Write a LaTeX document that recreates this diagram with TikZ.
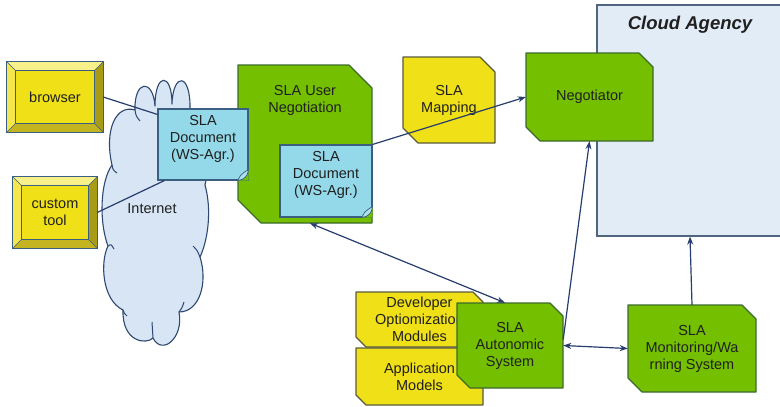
\documentclass[tikz,border=0pt]{standalone}
\usepackage{fontspec}
\setmainfont{Liberation Sans}
\usetikzlibrary{arrows.meta}
\definecolor{agreen}{HTML}{74BF00}
\definecolor{agreenB}{HTML}{3C6A2E}
\definecolor{ayel}{HTML}{F0E018}
\definecolor{ayelB}{HTML}{5A5A3C}
\definecolor{acyan}{HTML}{94D9E9}
\definecolor{acyanB}{HTML}{3A5F80}
\definecolor{aca}{HTML}{E2ECF7}
\definecolor{acaB}{HTML}{506680}
\definecolor{acloud}{HTML}{D8E5F4}
\definecolor{acloudB}{HTML}{2E4870}
\definecolor{aline}{HTML}{263D6E}
\definecolor{atext}{HTML}{202020}
\definecolor{bvtopc}{HTML}{F8F08A}
\definecolor{bvleftc}{HTML}{F4E64C}
\definecolor{bvrightc}{HTML}{A89C16}
\definecolor{bvbotc}{HTML}{C4B420}
\newcommand\chamfshape[6]{%
  \path[#1] (#2,#3) -- ({#4-#6},#3) -- (#4,{#3+#6}) -- (#4,#5) -- ({#2+#6},#5) -- (#2,{#5-#6}) -- cycle;}
\newcommand\mkbevels[2]{%
  \fill[bvtopc] (#1.north west) -- (#1.north east) -- ([shift={(-#2,#2)}]#1.north east) -- ([shift={(#2,#2)}]#1.north west) -- cycle;
  \fill[bvrightc] (#1.north east) -- (#1.south east) -- ([shift={(-#2,-#2)}]#1.south east) -- ([shift={(-#2,#2)}]#1.north east) -- cycle;
  \fill[bvbotc] (#1.south east) -- (#1.south west) -- ([shift={(#2,-#2)}]#1.south west) -- ([shift={(-#2,-#2)}]#1.south east) -- cycle;
  \fill[bvleftc] (#1.south west) -- (#1.north west) -- ([shift={(#2,#2)}]#1.north west) -- ([shift={(#2,-#2)}]#1.south west) -- cycle;
  \draw[bvline] (#1.north west) rectangle (#1.south east);
  \draw[bvline] ([shift={(#2,#2)}]#1.north west) rectangle ([shift={(-#2,-#2)}]#1.south east);
  \draw[bvline] (#1.north west) -- ([shift={(#2,#2)}]#1.north west)
                (#1.north east) -- ([shift={(-#2,#2)}]#1.north east)
                (#1.south east) -- ([shift={(-#2,-#2)}]#1.south east)
                (#1.south west) -- ([shift={(#2,-#2)}]#1.south west);}
\newcommand\docfold[1]{%
  \fill[agreen] (#1.south east) -- ([shift={(-11,0)}]#1.south east) -- ([shift={(0,-11)}]#1.south east) -- cycle;
  \filldraw[fill=acyan!75!white, draw=acyanB, line width=0.7pt]
    ([shift={(-11,0)}]#1.south east) .. controls ([shift={(-4,-1)}]#1.south east) and ([shift={(-1,-4)}]#1.south east) .. ([shift={(0,-11)}]#1.south east)
    .. controls ([shift={(-5,-8)}]#1.south east) .. ([shift={(-8,-5)}]#1.south east) -- cycle;}
\begin{document}
\begin{tikzpicture}[x=1pt,y=-1pt,
  lbl/.style={align=center, font=\fontsize{14.5}{17}\selectfont, text=atext, inner sep=0pt},
  greensh/.style={fill=agreen, draw=agreenB, line width=1.2pt, line join=round},
  yelsh/.style={fill=ayel, draw=ayelB, line width=1.1pt, line join=round},
  cabox/.style={rectangle, fill=aca, draw=acaB, line width=1.2pt, inner sep=0pt},
  catitle/.style={anchor=center, yshift=-20, inner sep=0pt, text=atext, font=\fontsize{18.5}{20}\selectfont\bfseries\itshape},
  cloudsh/.style={fill=acloud, draw=acloudB, line width=1.1pt, line join=round},
  crease/.style={draw=acloudB, line width=1pt},
  btn/.style={lbl, rectangle, fill=ayel},
  bvline/.style={draw=acyanB, line width=0.7pt},
  docbox/.style={rectangle, fill=acyan, draw=acyanB, line width=1.1pt, inner sep=0pt},
  conn/.style={draw=aline, line width=1.2pt},
  arr/.style={conn, -{Stealth[length=8pt, width=6pt]}},
  darr/.style={conn, {Stealth[length=8pt, width=6pt]}-{Stealth[length=8pt, width=6pt]}}
]
\useasboundingbox (0,0) rectangle (780,407);
\fill[white] (0,0) rectangle (780,407);

% Cloud Agency
\node[cabox, minimum width=186, minimum height=231, label={[catitle]north:Cloud Agency}] (ca) at (690,120.5) {};

% Internet cloud
\path[cloudsh] (112,165)
  .. controls (104,130) and (116,104) .. (135,110)
  .. controls (134,80) and (153,78) .. (155,106)
  .. controls (155,72) and (172,72) .. (172,104)
  .. controls (173,72) and (191,72) .. (190,110)
  .. controls (205,120) and (211,160) .. (205,185)
  .. controls (212,210) and (208,240) .. (200,257)
  .. controls (208,282) and (200,312) .. (179,312)
  .. controls (184,338) and (162,356) .. (153,338)
  .. controls (146,345) and (122,342) .. (123,310)
  .. controls (102,300) and (100,262) .. (108,246)
  .. controls (99,222) and (100,182) .. (112,165) -- cycle;
\draw[crease] (135,110) .. controls (136,116) .. (140,121);
\draw[crease] (108,246) .. controls (111,244) .. (114,249);
\draw[crease] (123,310) .. controls (124,313) .. (127,316);
\draw[crease] (153,338) .. controls (152,330) .. (152,322);
\draw[crease] (179,312) .. controls (182,308) .. (184,302);
\draw[crease] (200,257) .. controls (197,250) .. (193,246);
\draw[crease] (112,165) .. controls (113,170) .. (117,173);
\node[lbl] (inet) at (152,209) {Internet};

% client buttons
\node[btn, minimum width=96, minimum height=70] (browser) at (55,97) {browser};
\mkbevels{browser}{9}
\node[btn, minimum width=84, minimum height=71] (custom) at (55,212.5) {custom\\tool};
\mkbevels{custom}{9}

% SLA User Negotiation
\chamfshape{greensh}{238}{65}{372}{223}{23}
\node[lbl, minimum width=134, minimum height=158, label={[lbl, anchor=center, yshift=-36]north:SLA User\\Negotiation}] (uneg) at (305,144) {};

% left SLA document
\node[docbox, minimum width=90, minimum height=71, label={[lbl, anchor=center, yshift=5.5]center:SLA\\Document\\(WS-Agr.)}] (ldoc) at (203,144.5) {};
\docfold{ldoc}
\draw[conn] (browser.east) -- ([yshift=-6]ldoc.north west);
\draw[conn] (custom.east) -- ([xshift=7]ldoc.south west);

% inner SLA document
\node[docbox, minimum width=92, minimum height=72, label={[lbl, anchor=center, yshift=6]center:SLA\\Document\\(WS-Agr.)}] (idoc) at (326,181) {};
\docfold{idoc}

% SLA Mapping
\chamfshape{yelsh}{403}{57}{495}{143}{15}
\node[lbl, minimum width=92, minimum height=86] (map) at (449,100) {SLA\\Mapping};

% Negotiator
\chamfshape{greensh}{526}{53}{653}{141}{14}
\node[lbl, minimum width=127, minimum height=88] (neg) at (589.5,97) {Negotiator};

\draw[arr] (idoc.north east) -- (neg.west);

% developer / application modules
\chamfshape{yelsh}{356}{292}{483}{347}{10}
\node[lbl, minimum width=127, minimum height=55] (dev) at (419.5,319.5) {Developer\\Optiomization\\Modules};
\chamfshape{yelsh}{356}{348}{483}{405}{10}
\node[lbl, minimum width=127, minimum height=57] (app) at (419.5,376.5) {Application\\Models};

% SLA Autonomic System
\chamfshape{greensh}{457}{303}{563}{388}{13}
\node[lbl, minimum width=106, minimum height=85] (auto) at (510,345.5) {SLA\\Autonomic\\System};

% SLA Monitoring/Warning System
\chamfshape{greensh}{628}{305}{756}{392}{14}
\node[lbl, minimum width=128, minimum height=87] (mon) at (692,348.5) {SLA\\Monitoring/Wa\\rning System};

% connectors
\draw[darr] ([xshift=5]uneg.south) -- ([xshift=-5]auto.north);
\draw[arr] ([yshift=6]auto.east) -- (neg.south);
\draw[darr] (auto.east) -- (mon.west);
\draw[arr] (mon.north) -- (ca.south);
\end{tikzpicture}
\end{document}
